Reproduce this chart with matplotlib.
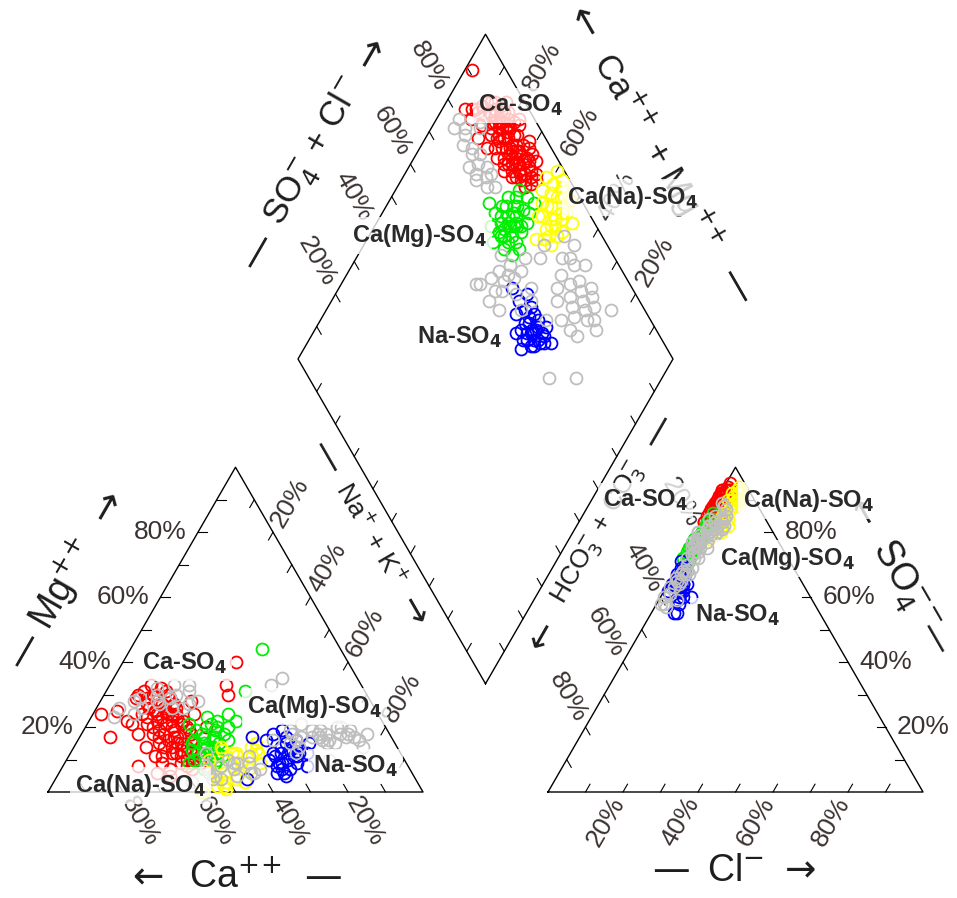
import numpy as np
import matplotlib
matplotlib.use('Agg')
import matplotlib.pyplot as plt

# Sample chemistry in percent of meq/L.
# Ca = 100 - Mg - (Na+K);  SO4 = 100 - HCO3 - Cl
red_nak = [10, 12, 13, 15, 16, 17, 18, 19, 20, 21, 22, 23, 24, 25, 26, 27, 28, 29, 30, 31, 32, 33, 34, 35,
           14, 11, 18, 22, 25, 28, 30, 20, 16, 24, 27, 32, 19, 23, 26, 29, 12, 15,
           6, 10, 9, 9, 31, 30, 33, 2, 8, 30, 26, 20, 13, 16, 18, 21, 14, 17,
           14, 17, 19, 21, 23, 25, 27, 29, 31, 33, 35, 20, 22, 24, 26, 28, 30, 32, 34, 36,
           15, 18, 21, 24, 27, 13, 16, 19, 22, 25]
red_hco3 = [12, 9, 15, 7, 11, 14, 6, 10, 13, 8, 16, 5, 11, 9, 14, 7, 12, 6, 10, 8, 13, 6, 10, 8,
            18, 10, 17, 4, 15, 5, 14, 9, 8, 7, 11, 9, 13, 12, 10, 15, 13, 10,
            17, 14, 17, 14, 6, 9, 12, 9, 15, 12, 16, 8, 8, 5, 9, 6, 11, 7,
            9, 10, 7, 11, 8, 12, 9, 11, 12, 9, 11, 15, 13, 14, 12, 14, 8, 11, 13, 9,
            12, 11, 9, 10, 13, 11, 13, 12, 10, 11]
red_mg = [31, 29, 27, 28, 25, 24, 22, 23, 19, 21, 18, 20, 16, 17, 14, 15, 12, 13, 11, 9, 10, 8, 9, 7,
          30, 33, 26, 24, 21, 19, 16, 27, 31, 28, 24, 20, 14, 11, 9, 7, 21, 18,
          25, 22, 29, 30, 33, 40, 30, 24, 17, 5, 6, 8, 30, 27, 29, 26, 32, 30,
          26, 27, 25, 24, 23, 22, 20, 18, 15, 13, 11, 24, 22, 19, 17, 15, 14, 12, 10, 9,
          23, 20, 17, 14, 12, 24, 21, 18, 15, 11]
red_cl = [1, 2, 1, 0, 2, 1, 3, 1, 2, 0, 1, 2, 1, 3, 1, 0, 2, 1, 1, 2, 0, 1, 2, 1,
          1, 2, 0, 1, 2, 1, 0, 1, 2, 1, 3, 1, 2, 1, 0, 1, 1, 2,
          1, 1, 0, 1, 1, 1, 2, 0, 0, 1, 2, 1, 1, 2, 1, 1, 0, 1,
          1, 2, 1, 0, 1, 2, 1, 1, 0, 2, 1, 1, 2, 1, 0, 1, 2, 1, 1, 0,
          1, 2, 1, 1, 0, 2, 1, 1, 2, 1]

green_nak = [33, 36, 31, 31, 35, 30, 39, 35, 31, 40, 35, 38, 34, 42, 38, 41, 39, 36, 34, 38, 27, 37, 35, 37, 33, 40,
             32, 34, 36, 33, 37, 39, 35, 40, 32, 36, 38, 34]
green_hco3 = [15, 14, 19, 22, 18, 25, 16, 23, 28, 21, 25, 24, 30, 24, 28, 27, 13, 20, 27, 26, 25, 22, 20, 21, 17, 18,
              21, 19, 23, 25, 17, 20, 27, 24, 24, 26, 21, 22]
green_mg = [21, 17, 23, 15, 13, 19, 11, 20, 16, 9, 14, 18, 12, 8, 15, 11, 22, 24, 10, 7, 21, 13, 44, 31, 9, 16,
            18, 15, 12, 17, 14, 12, 19, 10, 13, 16, 20, 22]
green_cl = [1, 2, 1, 0, 1, 2, 1, 1, 0, 2, 1, 1, 2, 1, 0, 1, 1, 2, 1, 1, 0, 2, 1, 1, 1, 1,
            1, 1, 2, 0, 1, 1, 2, 1, 1, 0, 1, 2]

yellow_nak = [38, 43, 39, 44, 48, 43, 48, 42, 47, 52, 46, 51, 45, 50, 41, 41, 49, 48, 47, 46, 40,
              42, 45, 44, 47, 49, 46, 50, 43, 48, 44]
yellow_hco3 = [6, 2, 9, 6, 3, 10, 7, 14, 10, 6, 14, 10, 18, 15, 5, 11, 6, 11, 16, 4, 2,
               7, 5, 9, 12, 8, 11, 12, 13, 14, 3]
yellow_mg = [10, 4, 14, 2, 7, 12, 15, 5, 1, 9, 17, 3, 8, 12, 0, 6, 11, 4, 14, 2, 13,
             8, 11, 6, 9, 13, 3, 7, 10, 5, 12]
yellow_cl = [4, 5, 3, 6, 4, 5, 3, 6, 4, 5, 3, 6, 4, 5, 3, 7, 4, 5, 2, 6, 4,
             5, 4, 3, 6, 5, 4, 5, 6, 4, 5]

blue_nak = [50, 54, 51, 58, 55, 61, 58, 54, 62, 58, 65, 61, 58, 55, 59, 59, 61, 53, 46, 51,
            56, 57, 60, 59, 57, 62, 60, 56, 63, 58, 55, 61]
blue_hco3 = [32, 30, 35, 30, 34, 29, 33, 38, 31, 36, 30, 35, 39, 32, 32, 33, 33, 32, 32, 29,
             33, 35, 34, 31, 37, 33, 36, 30, 32, 34, 36, 31]
blue_mg = [16, 12, 18, 9, 14, 11, 6, 10, 15, 13, 8, 5, 12, 17, 10, 7, 12, 19, 17, 4,
           12, 9, 11, 14, 8, 9, 6, 15, 12, 16, 11, 7]
blue_cl = [3, 1, 5, 2, 6, 0, 4, 7, 2, 5, 3, 1, 6, 2, 4, 3, 5, 1, 8, 2,
           3, 2, 4, 5, 1, 3, 6, 2, 4, 3, 5, 2]

grey_nak = [6, 9, 14, 11, 18, 16, 22, 20, 26, 21, 6, 13,
            38, 42, 43, 46, 42, 48, 51, 49, 37, 36, 42, 48,
            52, 56, 57, 62, 63, 67, 63, 67, 71, 67, 71, 71, 75, 57, 60, 64,
            76, 70, 77, 53, 60, 46, 52, 43, 45, 12,
            59, 65, 69, 61, 65, 69, 73, 68, 58, 55, 40, 45, 39, 44,
            15, 19, 24, 10, 17, 23]
grey_hco3 = [20, 20, 21, 23, 22, 25, 22, 25, 21, 20, 23, 16,
             30, 29, 33, 27, 37, 32, 27, 20, 40, 41, 40, 17,
             10, 9, 12, 9, 13, 11, 18, 15, 13, 20, 17, 22, 16, 17, 22, 24,
             9, 36, 29, 29, 28, 39, 33, 31, 24, 15,
             12, 14, 12, 16, 19, 16, 15, 23, 20, 14, 33, 30, 36, 35,
             22, 24, 23, 21, 20, 20]
grey_mg = [26, 28, 30, 24, 29, 27, 31, 26, 28, 33, 23, 32,
           8, 5, 10, 7, 4, 11, 6, 9, 3, 12, 8, 5,
           16, 18, 15, 17, 19, 16, 18, 20, 17, 15, 19, 18, 16, 21, 14, 17,
           18, 10, 14, 7, 12, 9, 6, 33, 35, 26,
           17, 18, 15, 19, 16, 18, 17, 20, 16, 19, 6, 9, 7, 4,
           28, 30, 27, 29, 33, 26]
grey_cl = [1, 2, 1, 0, 1, 3, 1, 2, 1, 0, 1, 2,
           2, 3, 1, 4, 2, 3, 1, 5, 2, 1, 3, 2,
           5, 3, 6, 4, 2, 5, 3, 4, 6, 2, 4, 3, 5, 3, 2, 4,
           2, 5, 3, 4, 2, 1, 3, 2, 1, 1,
           4, 3, 5, 2, 4, 3, 5, 3, 2, 4, 2, 3, 1, 2,
           1, 2, 1, 1, 0, 2]

groups = [
    ('red', red_nak, red_hco3, red_mg, red_cl),
    ('#00ee00', green_nak, green_hco3, green_mg, green_cl),
    ('#ffff00', yellow_nak, yellow_hco3, yellow_mg, yellow_cl),
    ('blue', blue_nak, blue_hco3, blue_mg, blue_cl),
    ('#bebebe', grey_nak, grey_hco3, grey_mg, grey_cl),
]

# water-type labels: text, x, baseline y
type_labels = [
    ('Ca-SO', 478, 112), ('Ca(Mg)-SO', 352, 242), ('Ca(Na)-SO', 567, 204), ('Na-SO', 417, 344),
    ('Ca-SO', 142, 670), ('Ca(Mg)-SO', 247, 713), ('Na-SO', 313, 773), ('Ca(Na)-SO', 75, 792),
    ('Ca-SO', 603, 507), ('Ca(Na)-SO', 743, 507), ('Ca(Mg)-SO', 720, 565), ('Na-SO', 695, 622),
]

# ---- geometry (figure pixels, y downward) ----
S = 375.0
H = S * np.sqrt(3) / 2
GAP = S / 3
CAT0 = np.array([48.0, 792.0])
AN0 = CAT0 + np.array([S + GAP, 0.0])
DIA0 = CAT0 + np.array([S + GAP / 2, -GAP / 2 * np.sqrt(3)])
TICK = 9
C60, S60 = 0.5, np.sqrt(3) / 2

TITLE_FONT = ['Liberation Sans Narrow', 'Liberation Sans', 'DejaVu Sans']
TICK_FONT = ['Liberation Sans', 'DejaVu Sans']
TICK_COLOR = '#3b3232'
INK = '#1e1e1e'


def cation_xy(nak, mg):
    nak, mg = np.asarray(nak) / 100, np.asarray(mg) / 100
    return CAT0[0] + S * (nak + mg / 2), CAT0[1] - H * mg


def anion_xy(cl, so4):
    cl, so4 = np.asarray(cl) / 100, np.asarray(so4) / 100
    return AN0[0] + S * (cl + so4 / 2), AN0[1] - H * so4


def diamond_xy(nak, hco3):
    nak, hco3 = np.asarray(nak) / 100, np.asarray(hco3) / 100
    return DIA0[0] + S / 2 * (nak - hco3), DIA0[1] - H * (2 - nak - hco3)


fig = plt.figure(figsize=(9.57, 8.98), dpi=100)
ax = fig.add_axes([0, 0, 1, 1])
ax.set_xlim(0, 957)
ax.set_ylim(898, 0)
ax.axis('off')

# outlines
ca_v = CAT0
na_v = CAT0 + [S, 0]
mg_v = CAT0 + [S / 2, -H]
hc_v = AN0
cl_v = AN0 + [S, 0]
so_v = AN0 + [S / 2, -H]
d_bot = DIA0
d_left = DIA0 + [-S / 2, -H]
d_right = DIA0 + [S / 2, -H]
d_top = DIA0 + [0, -2 * H]

for poly in ([ca_v, na_v, mg_v, ca_v], [hc_v, cl_v, so_v, hc_v],
             [d_bot, d_left, d_top, d_right, d_bot]):
    p = np.array(poly)
    ax.plot(p[:, 0], p[:, 1], color='black', lw=1.0, zorder=2)


def edge_ticks(p0, p1, inward, rot=None, off=34):
    inward = np.array(inward)
    for k in range(1, 10):
        p = p0 + (p1 - p0) * k / 10
        q = p + inward * TICK
        ax.plot([p[0], q[0]], [p[1], q[1]], color='black', lw=0.8, zorder=2)
        if rot is not None and k % 2 == 0:
            t = p - inward * off
            ax.text(t[0], t[1], f'{k * 10}%', rotation=rot, ha='center', va='center',
                    rotation_mode='anchor', fontsize=19, family=TICK_FONT,
                    color=TICK_COLOR, zorder=2)


edge_ticks(ca_v, mg_v, (1, 0), rot=0, off=38)              # Mg
edge_ticks(na_v, ca_v, (-C60, -S60), rot=-60)              # Ca
edge_ticks(mg_v, na_v, (-C60, S60), rot=60)                # Na + K
edge_ticks(cl_v, so_v, (-1, 0), rot=0, off=38)             # SO4
edge_ticks(hc_v, cl_v, (C60, -S60), rot=60)                # Cl
edge_ticks(so_v, hc_v, (C60, S60), rot=-60)                # HCO3
edge_ticks(d_left, d_top, (C60, S60), rot=-60, off=38)     # SO4 + Cl
edge_ticks(d_right, d_top, (-C60, S60), rot=60, off=38)    # Ca + Mg
edge_ticks(d_left, d_bot, (C60, -S60))
edge_ticks(d_right, d_bot, (-C60, -S60))


def axis_title(p0, p1, normal, dist, angle, label, start, end, d0, d1, size, sym_size=27):
    mid = (np.array(p0) + np.array(p1)) / 2
    c = mid + np.array(normal) * dist
    a = np.deg2rad(angle)
    u = np.array([np.cos(a), -np.sin(a)])
    kw = dict(rotation=angle, ha='center', va='center', rotation_mode='anchor',
              color=INK, zorder=2)
    ax.text(c[0], c[1], label, fontsize=size, family=TITLE_FONT, **kw)
    for sym, pos in ((start, c - u * d0), (end, c + u * d1)):
        ax.text(pos[0], pos[1], sym, fontsize=sym_size, family=['DejaVu Sans'], **kw)


PP = r'^{+\!+}'
axis_title(ca_v, mg_v, (-S60, -C60), 91, 60, r'Mg$' + PP + '$', '—', '→', 76, 90, 27)
axis_title(ca_v, na_v, (0, 1), 86, 0, r'Ca$' + PP + '$', '←', '—', 88, 87, 27)
axis_title(hc_v, cl_v, (0, 1), 79, 0, r'Cl$^{-}$', '—', '→', 65, 65, 27)
axis_title(cl_v, so_v, (S60, -C60), 86, -60, r'SO$_4^{-\!-}$', '←', '—', 85, 60, 27, 24)
axis_title(d_left, d_top, (-S60, -C60), 89, 60, r'SO$_4^{-}$ + Cl$^{-}$', '—', '→', 114, 114, 25)
axis_title(d_right, d_top, (S60, -C60), 90, -60, r'Ca$' + PP + '$ + Mg$' + PP + '$', '←', '—', 148, 156, 25)
axis_title(d_left, d_bot, (-S60, C60), 25, -60, r'Na$^{+}$ + K$^{+}$', '—', '→', 88, 88, 19, 25)
axis_title(d_right, d_bot, (S60, C60), 23, 60, r'HCO$_3^{-}$ + CO$_3^{-}$', '←', '—', 118, 118, 19, 25)

# samples in all three fields
for color, nak, hco3, mg, cl in groups:
    so4 = 100 - np.asarray(hco3) - np.asarray(cl)
    style = dict(ls='none', marker='o', ms=8.6, mfc='none', mec=color, mew=1.3, zorder=3)
    ax.plot(*cation_xy(nak, mg), **style)
    ax.plot(*anion_xy(cl, so4), **style)
    ax.plot(*diamond_xy(nak, hco3), **style)

for text, x, y in type_labels:
    ax.text(x, y, text + r'$_{\mathbf{4}}$', ha='left', va='baseline', fontsize=17,
            fontweight='bold', family=TICK_FONT, color='#2a2a2a', zorder=6,
            bbox=dict(boxstyle='square,pad=0.22', fc='white', ec='none', alpha=0.78))

fig.savefig('out.png', dpi=100)
